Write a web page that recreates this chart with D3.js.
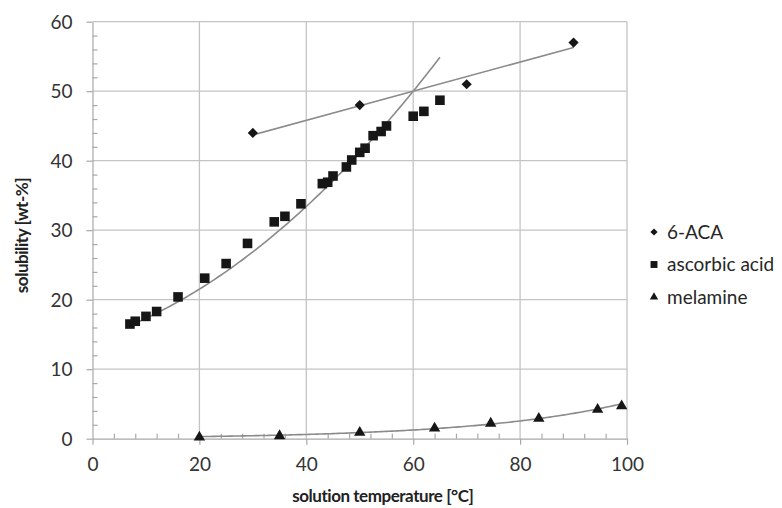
<!DOCTYPE html>
<html lang="en">
<head>
<meta charset="UTF-8">
<title>Solubility vs temperature</title>
<script src="https://d3js.org/d3.v7.min.js"></script>
<style>
    body, html {
        margin: 0;
        padding: 0;
        background: #fff;
        font-family: Lato, "Liberation Sans", Arial, sans-serif;
    }
    .grid line { stroke: #c4c4c4; stroke-width: 1.3; }
    .axis path, .axis line { stroke: #a8a8a8; stroke-width: 1.2; }
    .axis text { fill: #333; font-size: 19px; font-family: Lato, sans-serif; }
    .title { fill: #222; font-size: 17px; font-weight: bold; letter-spacing: -0.45px; }
    .legend text { fill: #262626; font-size: 19px; }
</style>
</head>
<body>
<div id="chart"></div>
<script>
// 6-ACA
const acaTemp = [30, 50, 70, 90];
const acaSol = [44, 48, 51, 57];

// ascorbic acid
const ascTemp = [7, 8, 10, 12, 16, 21, 25, 29, 34, 36, 39, 43, 44, 45, 47.5, 48.5, 50, 51, 52.5, 54, 55, 60, 62, 65];
const ascSol = [16.5, 16.9, 17.6, 18.3, 20.4, 23.1, 25.2, 28.1, 31.2, 32, 33.8, 36.7, 36.9, 37.8, 39.1, 40.1, 41.2, 41.8, 43.6, 44.2, 45.0, 46.4, 47.1, 48.7];

// melamine
const melTemp = [20, 35, 50, 64, 74.5, 83.5, 94.5, 99];
const melSol = [0.2, 0.4, 0.9, 1.5, 2.2, 2.9, 4.2, 4.7];

// trendline coefficients
const ascPoly = [14.31, 0.2431, 0.005863];   // a + b x + c x^2, x 7..65
const ascRange = [7, 65];
const melExp = [0.148, 0.0356];              // a * exp(b x), x 20..99
const melRange = [20, 99];

const seriesNames = ["6-ACA", "ascorbic acid", "melamine"];
const xTicks = [0, 20, 40, 60, 80, 100];
const yTicks = [0, 10, 20, 30, 40, 50, 60];

const W = 782, H = 508;
const svg = d3.select("#chart").append("svg")
    .attr("width", W).attr("height", H);

const x = d3.scaleLinear().domain([0, 100]).range([92.5, 627]);
const y = d3.scaleLinear().domain([0, 60]).range([438.7, 21.7]);

// grid
const grid = svg.append("g").attr("class", "grid");
grid.selectAll("line.v").data(xTicks.slice(1)).enter().append("line")
    .attr("x1", d => x(d)).attr("x2", d => x(d))
    .attr("y1", y(0)).attr("y2", y(60));
grid.selectAll("line.h").data(yTicks.slice(1)).enter().append("line")
    .attr("x1", x(0)).attr("x2", x(100))
    .attr("y1", d => y(d)).attr("y2", d => y(d));

// minor ticks (inside)
svg.append("g").attr("class", "axis")
    .attr("transform", `translate(${x(0)},0)`)
    .call(d3.axisRight(y).tickValues(d3.range(2, 60, 2).filter(v => v % 10)).tickSize(5).tickFormat(""))
    .call(g => g.select(".domain").remove());
svg.append("g").attr("class", "axis")
    .attr("transform", `translate(0,${y(0)})`)
    .call(d3.axisTop(x).tickValues(d3.range(4, 100, 4).filter(v => v % 20)).tickSize(5).tickFormat(""))
    .call(g => g.select(".domain").remove());

// major axes
svg.append("g").attr("class", "axis")
    .attr("transform", `translate(${x(0)},0)`)
    .call(d3.axisLeft(y).tickValues(yTicks).tickSizeInner(6).tickSizeOuter(0).tickPadding(14))
    .call(g => g.selectAll("text").attr("dy", "0.34em"));
svg.append("g").attr("class", "axis")
    .attr("transform", `translate(0,${y(0)})`)
    .call(d3.axisBottom(x).tickValues(xTicks).tickSizeInner(6).tickSizeOuter(0).tickPadding(13));

// titles
svg.append("text").attr("class", "title")
    .attr("x", (x(0) + x(100)) / 2 + 23).attr("y", 502)
    .attr("text-anchor", "middle")
    .text("solution temperature [°C]");
svg.append("text").attr("class", "title")
    .attr("transform", `translate(28,${235.5}) rotate(-90)`)
    .attr("text-anchor", "middle")
    .text("solubility [wt-%]");

// trendlines
const line = d3.line().x(d => x(d[0])).y(d => y(d[1]));
const acaFit = (() => {
    const mx = d3.mean(acaTemp), my = d3.mean(acaSol);
    const b = d3.sum(acaTemp, (t, i) => (t - mx) * (acaSol[i] - my)) / d3.sum(acaTemp, t => (t - mx) ** 2);
    return t => my + b * (t - mx);
})();
const trends = [
    d3.extent(acaTemp).map(t => [t, acaFit(t)]),
    d3.range(ascRange[0], ascRange[1] + 0.01, 0.5).map(t => [t, ascPoly[0] + ascPoly[1] * t + ascPoly[2] * t * t]),
    d3.range(melRange[0], melRange[1] + 0.01, 0.5).map(t => [t, melExp[0] * Math.exp(melExp[1] * t)])
];
svg.append("g").selectAll("path").data(trends).enter().append("path")
    .attr("d", line)
    .attr("fill", "none")
    .attr("stroke", "#8a8a8a")
    .attr("stroke-width", 1.6);

// markers - excel style diamond is a square turned 45 degrees
const squareDiamond = {
    draw(ctx, size) {
        const r = Math.sqrt(size / 2);
        ctx.moveTo(0, -r); ctx.lineTo(r, 0); ctx.lineTo(0, r); ctx.lineTo(-r, 0); ctx.closePath();
    }
};
const sym = [squareDiamond, d3.symbolSquare, d3.symbolTriangle];
const symSize = [52, 92, 56];
const sets = [
    acaTemp.map((t, i) => [t, acaSol[i]]),
    ascTemp.map((t, i) => [t, ascSol[i]]),
    melTemp.map((t, i) => [t, melSol[i]])
];
sets.forEach((pts, k) => {
    svg.append("g").selectAll("path").data(pts).enter().append("path")
        .attr("d", d3.symbol().type(sym[k]).size(symSize[k]))
        .attr("transform", d => `translate(${x(d[0])},${y(d[1])})`)
        .attr("fill", "#161616");
});

// legend
const legend = svg.append("g").attr("class", "legend");
const legSize = [26, 48, 30];
seriesNames.forEach((name, i) => {
    const yy = 232 + i * 32.5;
    legend.append("path")
        .attr("d", d3.symbol().type(sym[i]).size(legSize[i]))
        .attr("transform", `translate(654,${yy})`)
        .attr("fill", "#161616");
    legend.append("text")
        .attr("x", 667).attr("y", yy).attr("dy", "0.35em")
        .text(name);
});
</script>
</body>
</html>
